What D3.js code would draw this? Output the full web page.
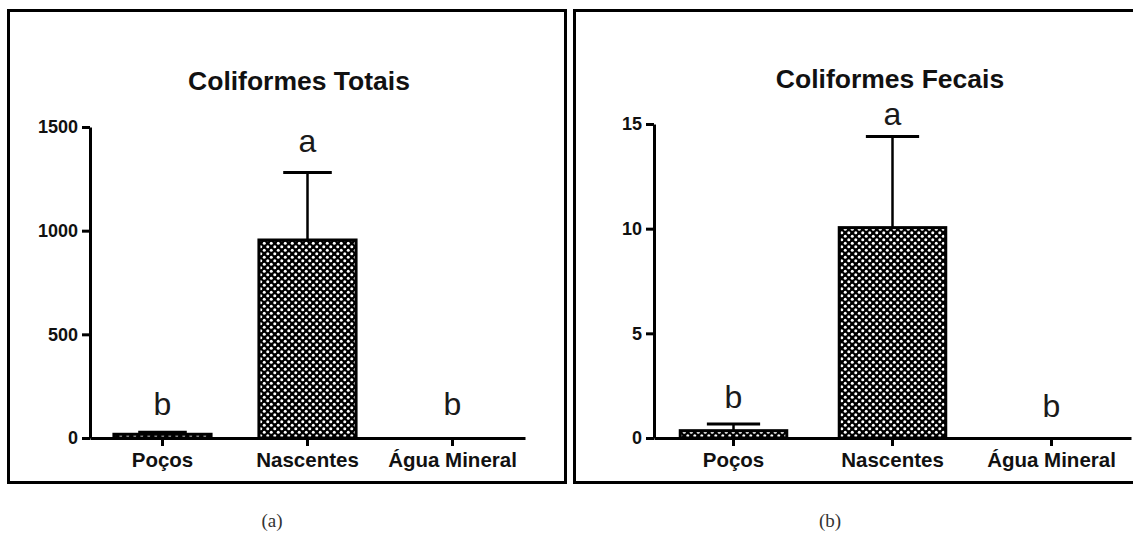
<!DOCTYPE html>
<html>
<head>
<meta charset="utf-8">
<script src="https://cdn.jsdelivr.net/npm/d3@7"></script>
<style>
  body { margin: 0; background: #fff; }
  svg { display: block; }
  .axis path, .axis line { stroke: #000; stroke-width: 3; }
  .axis text { fill: #111; font-family: "Liberation Sans", Arial, sans-serif; font-weight: bold; }
</style>
</head>
<body>
<div id="chart"></div>
<script>
// data
var categories = ["Poços", "Nascentes", "Água Mineral"];

var totaisMean = [18, 955, 0];
var totaisUpper = [28, 1281, 0];      // top of error bar (mean + SD)
var totaisLetters = ["b", "a", "b"];
var totaisLetterAt = [111, 1380, 111];
var totaisTicks = [0, 500, 1000, 1500];

var fecaisMean = [0.35, 10.05, 0];
var fecaisUpper = [0.67, 14.4, 0];
var fecaisLetters = ["b", "a", "b"];
var fecaisLetterAt = [1.43, 14.95, 1.0];
var fecaisTicks = [0, 5, 10, 15];

var svg = d3.select('#chart').append('svg')
  .attr('width', 1133)
  .attr('height', 536);

// checker pattern for the bars
var pat = svg.append('defs').append('pattern')
  .attr('id', 'checker')
  .attr('patternUnits', 'userSpaceOnUse')
  .attr('width', 7)
  .attr('height', 7);
pat.append('rect').attr('width', 7).attr('height', 7).attr('fill', '#000');
pat.append('circle').attr('cx', 1.75).attr('cy', 1.75).attr('r', 1.5).attr('fill', '#fff');
pat.append('circle').attr('cx', 5.25).attr('cy', 5.25).attr('r', 1.5).attr('fill', '#fff');

function drawPanel(p) {
  // frame
  svg.append('rect')
    .attr('x', p.frame[0]).attr('y', p.frame[1])
    .attr('width', p.frame[2]).attr('height', p.frame[3])
    .attr('fill', 'none')
    .attr('stroke', '#000')
    .attr('stroke-width', 3);

  var x = d3.scaleBand()
    .domain(categories)
    .range(p.xRange)
    .paddingInner(0.33)
    .paddingOuter(0.165);

  var y = d3.scaleLinear()
    .domain([0, p.ticks[p.ticks.length - 1]])
    .range(p.yRange);

  var g = svg.append('g');

  // title
  g.append('text')
    .attr('x', p.titleX)
    .attr('y', p.titleY)
    .attr('text-anchor', 'middle')
    .attr('font-family', '"Liberation Sans", Arial, sans-serif')
    .attr('font-weight', 'bold')
    .attr('font-size', 26.5)
    .attr('fill', '#111')
    .text(p.title);

  var rows = categories.map(function(c, i) {
    return { c: c, m: p.mean[i], u: p.upper[i] };
  });

  // bars
  g.selectAll('.bar')
    .data(rows.filter(function(d) { return d.m > 0; }))
    .enter().append('rect')
    .attr('class', 'bar')
    .attr('x', function(d) { return x(d.c); })
    .attr('y', function(d) { return y(d.m); })
    .attr('width', x.bandwidth())
    .attr('height', function(d) { return y(0) - y(d.m); })
    .attr('fill', 'url(#checker)')
    .attr('stroke', '#000')
    .attr('stroke-width', 3);

  // error bars (upper only)
  var err = g.selectAll('.err')
    .data(rows.filter(function(d) { return d.u > d.m; }))
    .enter().append('g');
  err.append('line')
    .attr('x1', function(d) { return x(d.c) + x.bandwidth() / 2; })
    .attr('x2', function(d) { return x(d.c) + x.bandwidth() / 2; })
    .attr('y1', function(d) { return y(d.m); })
    .attr('y2', function(d) { return y(d.u); })
    .attr('stroke', '#000')
    .attr('stroke-width', 2.5);
  err.append('line')
    .attr('x1', function(d) { return x(d.c) + x.bandwidth() / 4; })
    .attr('x2', function(d) { return x(d.c) + x.bandwidth() * 3 / 4; })
    .attr('y1', function(d) { return y(d.u); })
    .attr('y2', function(d) { return y(d.u); })
    .attr('stroke', '#000')
    .attr('stroke-width', 3);

  // axes
  g.append('g')
    .attr('class', 'axis')
    .attr('transform', 'translate(' + p.xRange[0] + ',0)')
    .call(d3.axisLeft(y).tickValues(p.ticks).tickFormat(d3.format('d'))
      .tickSize(8).tickSizeOuter(0).tickPadding(4))
    .selectAll('text').attr('font-size', 18);

  g.append('g')
    .attr('class', 'axis')
    .attr('transform', 'translate(0,' + p.yRange[0] + ')')
    .call(d3.axisBottom(x).tickSize(8).tickSizeOuter(0).tickPadding(6))
    .selectAll('text').attr('font-size', 20.5);

  // significance letters
  g.selectAll('.letter')
    .data(p.letters)
    .enter().append('text')
    .attr('x', function(d, i) { return x(categories[i]) + x.bandwidth() / 2; })
    .attr('y', function(d, i) { return y(p.letterAt[i]); })
    .attr('text-anchor', 'middle')
    .attr('font-family', '"Liberation Sans", Arial, sans-serif')
    .attr('font-size', 32)
    .attr('fill', '#1a1a1a')
    .text(function(d) { return d; });

  // panel label
  svg.append('text')
    .attr('x', p.labelX)
    .attr('y', 527)
    .attr('text-anchor', 'middle')
    .attr('font-family', '"Liberation Serif", "DejaVu Serif", serif')
    .attr('font-size', 19)
    .attr('fill', '#333')
    .text(p.label);
}

drawPanel({
  frame: [8.5, 10.5, 557, 472],
  xRange: [90, 525],
  yRange: [438, 127],
  ticks: totaisTicks,
  mean: totaisMean,
  upper: totaisUpper,
  letters: totaisLetters,
  letterAt: totaisLetterAt,
  title: 'Coliformes Totais',
  titleX: 299, titleY: 90,
  label: '(a)', labelX: 272
});

drawPanel({
  frame: [574.5, 10.5, 561, 472],
  xRange: [654, 1131],
  yRange: [438, 124],
  ticks: fecaisTicks,
  mean: fecaisMean,
  upper: fecaisUpper,
  letters: fecaisLetters,
  letterAt: fecaisLetterAt,
  title: 'Coliformes Fecais',
  titleX: 890, titleY: 88,
  label: '(b)', labelX: 830
});
</script>
</body>
</html>
